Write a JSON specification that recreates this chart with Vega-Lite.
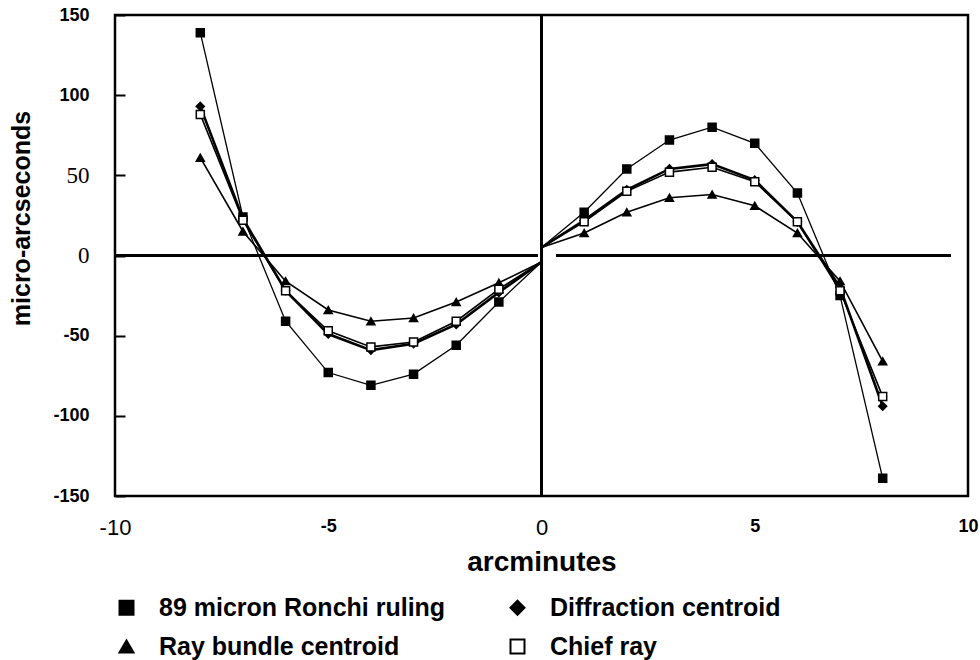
{
 "$schema": "https://vega.github.io/schema/vega-lite/v6.json",
 "width": 853,
 "height": 481,
 "autosize": "none",
 "padding": {"left": 115, "top": 15, "right": 12, "bottom": 164},
 "background": "white",
 "config": {"view": {"stroke": "black", "strokeWidth": 2.5}, "font": "Liberation Sans"},
 "data": {"values": [
  {"s": "89 micron Ronchi ruling", "side": "L", "x": -8, "y": 139},
  {"s": "89 micron Ronchi ruling", "side": "L", "x": -7, "y": 24},
  {"s": "89 micron Ronchi ruling", "side": "L", "x": -6, "y": -41},
  {"s": "89 micron Ronchi ruling", "side": "L", "x": -5, "y": -73},
  {"s": "89 micron Ronchi ruling", "side": "L", "x": -4, "y": -81},
  {"s": "89 micron Ronchi ruling", "side": "L", "x": -3, "y": -74},
  {"s": "89 micron Ronchi ruling", "side": "L", "x": -2, "y": -56},
  {"s": "89 micron Ronchi ruling", "side": "L", "x": -1, "y": -29},
  {"s": "89 micron Ronchi ruling", "side": "L", "x": 0, "y": -4},
  {"s": "89 micron Ronchi ruling", "side": "R", "x": 0, "y": 5},
  {"s": "89 micron Ronchi ruling", "side": "R", "x": 1, "y": 27},
  {"s": "89 micron Ronchi ruling", "side": "R", "x": 2, "y": 54},
  {"s": "89 micron Ronchi ruling", "side": "R", "x": 3, "y": 72},
  {"s": "89 micron Ronchi ruling", "side": "R", "x": 4, "y": 80},
  {"s": "89 micron Ronchi ruling", "side": "R", "x": 5, "y": 70},
  {"s": "89 micron Ronchi ruling", "side": "R", "x": 6, "y": 39},
  {"s": "89 micron Ronchi ruling", "side": "R", "x": 7, "y": -25},
  {"s": "89 micron Ronchi ruling", "side": "R", "x": 8, "y": -139},
  {"s": "Diffraction centroid", "side": "L", "x": -8, "y": 93},
  {"s": "Diffraction centroid", "side": "L", "x": -7, "y": 23},
  {"s": "Diffraction centroid", "side": "L", "x": -6, "y": -22},
  {"s": "Diffraction centroid", "side": "L", "x": -5, "y": -49},
  {"s": "Diffraction centroid", "side": "L", "x": -4, "y": -59},
  {"s": "Diffraction centroid", "side": "L", "x": -3, "y": -55},
  {"s": "Diffraction centroid", "side": "L", "x": -2, "y": -43},
  {"s": "Diffraction centroid", "side": "L", "x": -1, "y": -23},
  {"s": "Diffraction centroid", "side": "L", "x": 0, "y": -4},
  {"s": "Diffraction centroid", "side": "R", "x": 0, "y": 5},
  {"s": "Diffraction centroid", "side": "R", "x": 1, "y": 22},
  {"s": "Diffraction centroid", "side": "R", "x": 2, "y": 41},
  {"s": "Diffraction centroid", "side": "R", "x": 3, "y": 54},
  {"s": "Diffraction centroid", "side": "R", "x": 4, "y": 57},
  {"s": "Diffraction centroid", "side": "R", "x": 5, "y": 47},
  {"s": "Diffraction centroid", "side": "R", "x": 6, "y": 21},
  {"s": "Diffraction centroid", "side": "R", "x": 7, "y": -20},
  {"s": "Diffraction centroid", "side": "R", "x": 8, "y": -94},
  {"s": "Ray bundle centroid", "side": "L", "x": -8, "y": 61},
  {"s": "Ray bundle centroid", "side": "L", "x": -7, "y": 15},
  {"s": "Ray bundle centroid", "side": "L", "x": -6, "y": -16},
  {"s": "Ray bundle centroid", "side": "L", "x": -5, "y": -34},
  {"s": "Ray bundle centroid", "side": "L", "x": -4, "y": -41},
  {"s": "Ray bundle centroid", "side": "L", "x": -3, "y": -39},
  {"s": "Ray bundle centroid", "side": "L", "x": -2, "y": -29},
  {"s": "Ray bundle centroid", "side": "L", "x": -1, "y": -17},
  {"s": "Ray bundle centroid", "side": "L", "x": 0, "y": -4},
  {"s": "Ray bundle centroid", "side": "R", "x": 0, "y": 5},
  {"s": "Ray bundle centroid", "side": "R", "x": 1, "y": 14},
  {"s": "Ray bundle centroid", "side": "R", "x": 2, "y": 27},
  {"s": "Ray bundle centroid", "side": "R", "x": 3, "y": 36},
  {"s": "Ray bundle centroid", "side": "R", "x": 4, "y": 38},
  {"s": "Ray bundle centroid", "side": "R", "x": 5, "y": 31},
  {"s": "Ray bundle centroid", "side": "R", "x": 6, "y": 14},
  {"s": "Ray bundle centroid", "side": "R", "x": 7, "y": -16},
  {"s": "Ray bundle centroid", "side": "R", "x": 8, "y": -66},
  {"s": "Chief ray", "side": "L", "x": -8, "y": 88},
  {"s": "Chief ray", "side": "L", "x": -7, "y": 22},
  {"s": "Chief ray", "side": "L", "x": -6, "y": -22},
  {"s": "Chief ray", "side": "L", "x": -5, "y": -47},
  {"s": "Chief ray", "side": "L", "x": -4, "y": -57},
  {"s": "Chief ray", "side": "L", "x": -3, "y": -54},
  {"s": "Chief ray", "side": "L", "x": -2, "y": -41},
  {"s": "Chief ray", "side": "L", "x": -1, "y": -21},
  {"s": "Chief ray", "side": "L", "x": 0, "y": -4},
  {"s": "Chief ray", "side": "R", "x": 0, "y": 5},
  {"s": "Chief ray", "side": "R", "x": 1, "y": 21},
  {"s": "Chief ray", "side": "R", "x": 2, "y": 40},
  {"s": "Chief ray", "side": "R", "x": 3, "y": 52},
  {"s": "Chief ray", "side": "R", "x": 4, "y": 55},
  {"s": "Chief ray", "side": "R", "x": 5, "y": 46},
  {"s": "Chief ray", "side": "R", "x": 6, "y": 21},
  {"s": "Chief ray", "side": "R", "x": 7, "y": -22},
  {"s": "Chief ray", "side": "R", "x": 8, "y": -88}
 ]},
 "layer": [
  {
   "transform": [{"filter": "datum.s == 'Ray bundle centroid' || datum.s == 'Chief ray'"}],
   "mark": {"type": "line", "color": "black", "strokeWidth": 1.6},
   "encoding": {
    "x": {"field": "x", "type": "quantitative",
      "scale": {"domain": [-10, 10], "nice": false, "zero": false},
      "axis": {"title": "arcminutes", "titleFontSize": 28, "titleFontWeight": "bold", "titleColor": "black", "titlePadding": 10,
        "values": [-10, -5, 0, 5, 10], "ticks": false, "domain": false, "grid": false,
        "labelExpr": "datum.value + ''", "labelColor": "black", "labelPadding": 21, "labelFlush": false,
        "labelFontWeight": {"condition": {"test": "datum.value == -10 || datum.value == 0", "value": "normal"}, "value": "bold"},
        "labelFontSize": {"condition": {"test": "datum.value == -10 || datum.value == 0", "value": 22}, "value": 18}}},
    "y": {"field": "y", "type": "quantitative",
      "scale": {"domain": [-150, 150], "nice": false},
      "axis": {"title": "micro-arcseconds", "titleFontSize": 25, "titleFontWeight": "bold", "titleColor": "black", "titlePadding": 18, "titleY": 203,
        "values": [-150, -100, -50, 0, 50, 100, 150], "ticks": true, "tickSize": -10, "tickColor": "black", "tickWidth": 2,
        "domain": false, "grid": false,
        "labelExpr": "datum.value + ''", "labelColor": "black", "labelPadding": 36,
        "labelFont": {"condition": {"test": "datum.value == 50 || datum.value == 0", "value": "Liberation Serif"}, "value": "Liberation Sans"},
        "labelFontWeight": {"condition": {"test": "datum.value == 50 || datum.value == 0", "value": "normal"}, "value": "bold"},
        "labelFontSize": {"condition": {"test": "datum.value == 50 || datum.value == 0", "value": 23}, "value": 18}}},
    "detail": [{"field": "s", "type": "nominal"}, {"field": "side", "type": "nominal"}],
    "order": {"field": "x", "type": "quantitative"}
   }
  },
  {
   "transform": [{"filter": "datum.s == '89 micron Ronchi ruling'"}],
   "mark": {"type": "line", "color": "black", "strokeWidth": 1.3},
   "encoding": {
    "x": {"field": "x", "type": "quantitative"},
    "y": {"field": "y", "type": "quantitative"},
    "detail": {"field": "side", "type": "nominal"},
    "order": {"field": "x", "type": "quantitative"}
   }
  },
  {
   "transform": [{"filter": "datum.s == 'Diffraction centroid'"}],
   "mark": {"type": "line", "color": "black", "strokeWidth": 2.6},
   "encoding": {
    "x": {"field": "x", "type": "quantitative"},
    "y": {"field": "y", "type": "quantitative"},
    "detail": {"field": "side", "type": "nominal"},
    "order": {"field": "x", "type": "quantitative"}
   }
  },
  {
   "mark": {"type": "rule", "color": "black", "strokeWidth": 2},
   "encoding": {"x": {"datum": 0, "type": "quantitative"}}
  },
  {
   "mark": {"type": "rule", "color": "black", "strokeWidth": 2},
   "encoding": {"y": {"datum": 0, "type": "quantitative"}, "x": {"datum": -10, "type": "quantitative"}, "x2": {"datum": -0.1}}
  },
  {
   "mark": {"type": "rule", "color": "black", "strokeWidth": 2},
   "encoding": {"y": {"datum": 0, "type": "quantitative"}, "x": {"datum": 0.35, "type": "quantitative"}, "x2": {"datum": 9.6}}
  },
  {
   "transform": [{"filter": "datum.x != 0"}],
   "mark": {"type": "point", "filled": true, "strokeWidth": 1.5, "opacity": 1, "size": 64},
   "encoding": {
    "x": {"field": "x", "type": "quantitative"},
    "y": {"field": "y", "type": "quantitative"},
    "shape": {"field": "s", "type": "nominal", "title": null,
      "scale": {"domain": ["89 micron Ronchi ruling", "Diffraction centroid", "Ray bundle centroid", "Chief ray"], "range": ["square", "diamond", "triangle-up", "square"]},
      "legend": {"orient": "none", "legendX": -1, "legendY": 580, "columns": 2, "direction": "horizontal",
        "labelFont": "Liberation Sans", "labelFontWeight": "bold", "labelFontSize": 25, "labelColor": "black", "labelLimit": 500,
        "labelOffset": 20, "symbolSize": 196, "symbolStrokeWidth": 2, "rowPadding": 13, "columnPadding": 59,
        "encode": {"symbols": {
          "shape": {"value": {"expr": "datum.value === '89 micron Ronchi ruling' ? 'M-3,0H3M-0.6,-0.6H0.6V0.6H-0.6Z' : datum.value === 'Diffraction centroid' ? 'M-3,0H3M0,-0.75L0.75,0L0,0.75L-0.75,0Z' : datum.value === 'Ray bundle centroid' ? 'M-3,0H3M0,-0.8L0.75,0.55H-0.75Z' : 'M-3,0H-0.6M0.6,0H3M-0.6,-0.6H0.6V0.6H-0.6Z'"}}
        }}}},
    "fill": {"field": "s", "type": "nominal", "title": null,
      "scale": {"domain": ["89 micron Ronchi ruling", "Diffraction centroid", "Ray bundle centroid", "Chief ray"], "range": ["black", "black", "black", "white"]}},
    "stroke": {"field": "s", "type": "nominal", "title": null,
      "scale": {"domain": ["89 micron Ronchi ruling", "Diffraction centroid", "Ray bundle centroid", "Chief ray"], "range": ["black", "black", "black", "black"]}}
   }
  }
 ]
}
